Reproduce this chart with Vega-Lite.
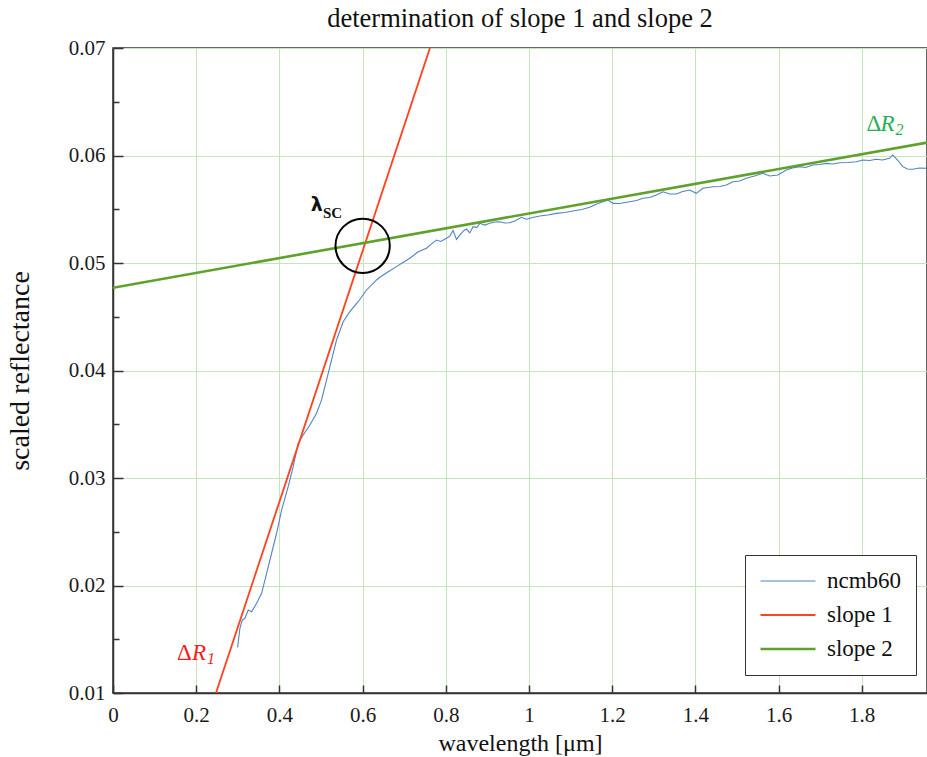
{
  "$schema": "https://vega.github.io/schema/vega-lite/v6.json",
  "width": 814,
  "height": 645,
  "autosize": "none",
  "padding": {"left": 113, "top": 48, "right": 0, "bottom": 64},
  "background": "white",
  "title": {
    "text": "determination of slope 1 and slope 2",
    "font": "Liberation Serif",
    "fontSize": 26.5,
    "fontWeight": "normal",
    "color": "#111111",
    "anchor": "middle",
    "offset": 5
  },
  "config": {
    "view": {"stroke": "#333333", "strokeWidth": 1.5},
    "axis": {
      "labelFont": "Liberation Serif",
      "labelFontSize": 21,
      "labelColor": "#1a1a1a",
      "titleFont": "Liberation Serif",
      "titleFontWeight": "normal",
      "titleColor": "#111111",
      "domainColor": "#333333",
      "domainWidth": 1.5,
      "tickColor": "#333333",
      "tickWidth": 1.5,
      "gridColor": "#c6e5bf",
      "gridWidth": 1,
      "labelOverlap": false,
      "labelFlush": false
    },
    "legend": {
      "orient": "none",
      "legendX": 632,
      "legendY": 507,
      "title": null,
      "strokeColor": "#333333",
      "fillColor": "white",
      "padding": 14,
      "symbolType": "stroke",
      "symbolSize": 3025,
      "clipHeight": 24,
      "rowPadding": 10,
      "symbolOffset": 0,
      "labelOffset": 10,
      "labelFont": "Liberation Serif",
      "labelFontSize": 23,
      "labelColor": "#111111"
    }
  },
  "datasets": {
    "spectrum": [
      {"series": "ncmb60", "x": 0.2996, "y": 0.01425},
      {"series": "ncmb60", "x": 0.3051, "y": 0.01602},
      {"series": "ncmb60", "x": 0.3107, "y": 0.01679},
      {"series": "ncmb60", "x": 0.3172, "y": 0.01695},
      {"series": "ncmb60", "x": 0.3251, "y": 0.01772},
      {"series": "ncmb60", "x": 0.3333, "y": 0.01756},
      {"series": "ncmb60", "x": 0.3453, "y": 0.01834},
      {"series": "ncmb60", "x": 0.3573, "y": 0.01927},
      {"series": "ncmb60", "x": 0.3693, "y": 0.02113},
      {"series": "ncmb60", "x": 0.3813, "y": 0.0230},
      {"series": "ncmb60", "x": 0.3933, "y": 0.02486},
      {"series": "ncmb60", "x": 0.4053, "y": 0.02702},
      {"series": "ncmb60", "x": 0.4212, "y": 0.02919},
      {"series": "ncmb60", "x": 0.4332, "y": 0.03105},
      {"series": "ncmb60", "x": 0.4452, "y": 0.03323},
      {"series": "ncmb60", "x": 0.4572, "y": 0.0340},
      {"series": "ncmb60", "x": 0.4733, "y": 0.03493},
      {"series": "ncmb60", "x": 0.4894, "y": 0.03602},
      {"series": "ncmb60", "x": 0.5014, "y": 0.03726},
      {"series": "ncmb60", "x": 0.5135, "y": 0.03912},
      {"series": "ncmb60", "x": 0.5255, "y": 0.04098},
      {"series": "ncmb60", "x": 0.5375, "y": 0.04284},
      {"series": "ncmb60", "x": 0.5533, "y": 0.04454},
      {"series": "ncmb60", "x": 0.5694, "y": 0.04547},
      {"series": "ncmb60", "x": 0.5894, "y": 0.0464},
      {"series": "ncmb60", "x": 0.6096, "y": 0.04749},
      {"series": "ncmb60", "x": 0.6336, "y": 0.04842},
      {"series": "ncmb60", "x": 0.6415, "y": 0.04867},
      {"series": "ncmb60", "x": 0.6607, "y": 0.04916},
      {"series": "ncmb60", "x": 0.6816, "y": 0.04966},
      {"series": "ncmb60", "x": 0.6968, "y": 0.05005},
      {"series": "ncmb60", "x": 0.7136, "y": 0.05044},
      {"series": "ncmb60", "x": 0.7328, "y": 0.05102},
      {"series": "ncmb60", "x": 0.7537, "y": 0.05137},
      {"series": "ncmb60", "x": 0.7665, "y": 0.0518},
      {"series": "ncmb60", "x": 0.7778, "y": 0.05214},
      {"series": "ncmb60", "x": 0.7881, "y": 0.0520},
      {"series": "ncmb60", "x": 0.8018, "y": 0.0523},
      {"series": "ncmb60", "x": 0.8097, "y": 0.0525},
      {"series": "ncmb60", "x": 0.8176, "y": 0.05302},
      {"series": "ncmb60", "x": 0.8258, "y": 0.0522},
      {"series": "ncmb60", "x": 0.8361, "y": 0.0527},
      {"series": "ncmb60", "x": 0.8433, "y": 0.0530},
      {"series": "ncmb60", "x": 0.8498, "y": 0.05316},
      {"series": "ncmb60", "x": 0.8578, "y": 0.0528},
      {"series": "ncmb60", "x": 0.8657, "y": 0.05338},
      {"series": "ncmb60", "x": 0.8746, "y": 0.0533},
      {"series": "ncmb60", "x": 0.8818, "y": 0.05369},
      {"series": "ncmb60", "x": 0.8938, "y": 0.05353},
      {"series": "ncmb60", "x": 0.9058, "y": 0.05369},
      {"series": "ncmb60", "x": 0.9178, "y": 0.05381},
      {"series": "ncmb60", "x": 0.9299, "y": 0.05384},
      {"series": "ncmb60", "x": 0.9419, "y": 0.05372},
      {"series": "ncmb60", "x": 0.9539, "y": 0.05375},
      {"series": "ncmb60", "x": 0.9659, "y": 0.05391},
      {"series": "ncmb60", "x": 0.9820, "y": 0.05425},
      {"series": "ncmb60", "x": 0.9940, "y": 0.05407},
      {"series": "ncmb60", "x": 1.0091, "y": 0.05423},
      {"series": "ncmb60", "x": 1.0260, "y": 0.05437},
      {"series": "ncmb60", "x": 1.0452, "y": 0.05447},
      {"series": "ncmb60", "x": 1.0661, "y": 0.05462},
      {"series": "ncmb60", "x": 1.0860, "y": 0.0547},
      {"series": "ncmb60", "x": 1.1060, "y": 0.05484},
      {"series": "ncmb60", "x": 1.1269, "y": 0.05498},
      {"series": "ncmb60", "x": 1.1461, "y": 0.05518},
      {"series": "ncmb60", "x": 1.1629, "y": 0.05549},
      {"series": "ncmb60", "x": 1.1780, "y": 0.0557},
      {"series": "ncmb60", "x": 1.1900, "y": 0.05586},
      {"series": "ncmb60", "x": 1.2021, "y": 0.05555},
      {"series": "ncmb60", "x": 1.2182, "y": 0.05553},
      {"series": "ncmb60", "x": 1.2422, "y": 0.0557},
      {"series": "ncmb60", "x": 1.2590, "y": 0.05581},
      {"series": "ncmb60", "x": 1.2741, "y": 0.05602},
      {"series": "ncmb60", "x": 1.2902, "y": 0.05609},
      {"series": "ncmb60", "x": 1.3063, "y": 0.05633},
      {"series": "ncmb60", "x": 1.3222, "y": 0.05663},
      {"series": "ncmb60", "x": 1.3383, "y": 0.05642},
      {"series": "ncmb60", "x": 1.3544, "y": 0.05642},
      {"series": "ncmb60", "x": 1.3695, "y": 0.05665},
      {"series": "ncmb60", "x": 1.3864, "y": 0.05679},
      {"series": "ncmb60", "x": 1.4024, "y": 0.05648},
      {"series": "ncmb60", "x": 1.4183, "y": 0.05695},
      {"series": "ncmb60", "x": 1.4344, "y": 0.05704},
      {"series": "ncmb60", "x": 1.4423, "y": 0.0571},
      {"series": "ncmb60", "x": 1.4584, "y": 0.05712},
      {"series": "ncmb60", "x": 1.4745, "y": 0.05726},
      {"series": "ncmb60", "x": 1.4904, "y": 0.05756},
      {"series": "ncmb60", "x": 1.5065, "y": 0.05763},
      {"series": "ncmb60", "x": 1.5226, "y": 0.05788},
      {"series": "ncmb60", "x": 1.5425, "y": 0.05809},
      {"series": "ncmb60", "x": 1.5625, "y": 0.05834},
      {"series": "ncmb60", "x": 1.5786, "y": 0.05809},
      {"series": "ncmb60", "x": 1.5985, "y": 0.05819},
      {"series": "ncmb60", "x": 1.6187, "y": 0.05865},
      {"series": "ncmb60", "x": 1.6338, "y": 0.05884},
      {"series": "ncmb60", "x": 1.6507, "y": 0.05896},
      {"series": "ncmb60", "x": 1.6650, "y": 0.05888},
      {"series": "ncmb60", "x": 1.6826, "y": 0.05912},
      {"series": "ncmb60", "x": 1.6987, "y": 0.05916},
      {"series": "ncmb60", "x": 1.7148, "y": 0.05927},
      {"series": "ncmb60", "x": 1.7300, "y": 0.05921},
      {"series": "ncmb60", "x": 1.7468, "y": 0.05933},
      {"series": "ncmb60", "x": 1.7660, "y": 0.05935},
      {"series": "ncmb60", "x": 1.7869, "y": 0.05942},
      {"series": "ncmb60", "x": 1.8028, "y": 0.05958},
      {"series": "ncmb60", "x": 1.8189, "y": 0.05953},
      {"series": "ncmb60", "x": 1.8350, "y": 0.05965},
      {"series": "ncmb60", "x": 1.8501, "y": 0.05958},
      {"series": "ncmb60", "x": 1.8669, "y": 0.05974},
      {"series": "ncmb60", "x": 1.8748, "y": 0.06005},
      {"series": "ncmb60", "x": 1.8861, "y": 0.05958},
      {"series": "ncmb60", "x": 1.8988, "y": 0.05896},
      {"series": "ncmb60", "x": 1.9101, "y": 0.05874},
      {"series": "ncmb60", "x": 1.9229, "y": 0.05872},
      {"series": "ncmb60", "x": 1.9390, "y": 0.05884},
      {"series": "ncmb60", "x": 1.9550, "y": 0.05881}
    ],
    "slopes": [
      {"series": "slope 1", "x": 0.2476, "y": 0.01},
      {"series": "slope 1", "x": 0.762, "y": 0.07},
      {"series": "slope 2", "x": 0, "y": 0.0477},
      {"series": "slope 2", "x": 1.957, "y": 0.0612}
    ],
    "crossing": [
      {"x": 0.6002, "y": 0.0516}
    ],
    "notes": [
      {"group": "dR1", "part": "delta", "x": 0.1538, "y": 0.01307, "text": "Δ"},
      {"group": "dR1", "part": "R", "x": 0.1898, "y": 0.01307, "text": "R"},
      {"group": "dR1", "part": "sub", "x": 0.2259, "y": 0.0127, "text": "1"},
      {"group": "dR2", "part": "delta", "x": 1.8116, "y": 0.06228, "text": "Δ"},
      {"group": "dR2", "part": "R", "x": 1.8453, "y": 0.06228, "text": "R"},
      {"group": "dR2", "part": "sub", "x": 1.8813, "y": 0.06191, "text": "2"},
      {"group": "lam", "part": "lambda", "x": 0.4757, "y": 0.05484, "text": "λ"},
      {"group": "lam", "part": "sc", "x": 0.5046, "y": 0.05419, "text": "SC"}
    ]
  },
  "encoding": {
    "x": {
      "field": "x",
      "type": "quantitative",
      "scale": {"domain": [0, 1.957], "nice": false, "zero": false},
      "axis": {
        "title": "wavelength [μm]",
        "titleFontSize": 24,
        "titlePadding": 6,
        "values": [0, 0.2, 0.4, 0.6, 0.8, 1, 1.2, 1.4, 1.6, 1.8],
        "format": "~g",
        "tickSize": -8,
        "labelPadding": 19,
        "grid": true
      }
    },
    "y": {
      "field": "y",
      "type": "quantitative",
      "scale": {"domain": [0.01, 0.07], "nice": false, "zero": false},
      "axis": {
        "title": "scaled reflectance",
        "titleFontSize": 28,
        "titlePadding": 34,
        "values": [0.01, 0.015, 0.02, 0.025, 0.03, 0.035, 0.04, 0.045, 0.05, 0.055, 0.06, 0.065, 0.07],
        "labelExpr": "abs(datum.value * 100 - round(datum.value * 100)) < 0.001 ? format(datum.value, '.2f') : ''",
        "tickSize": {
          "condition": {"test": "abs(datum.value * 100 - round(datum.value * 100)) < 0.001", "value": -10},
          "value": -6
        },
        "labelPadding": 18,
        "grid": true,
        "gridOpacity": {
          "condition": {"test": "abs(datum.value * 100 - round(datum.value * 100)) < 0.001", "value": 1},
          "value": 0
        }
      }
    }
  },
  "layer": [
    {
      "data": {"name": "spectrum"},
      "mark": {"type": "line", "clip": true},
      "encoding": {
        "color": {
          "field": "series",
          "type": "nominal",
          "scale": {"domain": ["ncmb60", "slope 1", "slope 2"], "range": ["#5282c2", "#ff4520", "#5ea22c"]}
        },
        "strokeWidth": {
          "field": "series",
          "type": "nominal",
          "scale": {"domain": ["ncmb60", "slope 1", "slope 2"], "range": [1.1, 2.6, 2.6]}
        }
      }
    },
    {
      "data": {"name": "slopes"},
      "mark": {"type": "line", "clip": true},
      "encoding": {
        "color": {"field": "series", "type": "nominal"},
        "strokeWidth": {"field": "series", "type": "nominal"}
      }
    },
    {
      "data": {"name": "crossing"},
      "mark": {"type": "point", "shape": "circle", "filled": false, "size": 2950, "stroke": "black", "strokeWidth": 2, "opacity": 1}
    },
    {
      "data": {"name": "notes"},
      "transform": [{"filter": "datum.part === 'delta'"}],
      "mark": {"type": "text", "align": "left", "baseline": "alphabetic", "font": "Liberation Serif", "fontSize": 23},
      "encoding": {
        "text": {"field": "text"},
        "color": {"condition": {"test": "datum.group === 'dR1'", "value": "#f51c1c"}, "value": "#1faf55"}
      }
    },
    {
      "data": {"name": "notes"},
      "transform": [{"filter": "datum.part === 'R'"}],
      "mark": {"type": "text", "align": "left", "baseline": "alphabetic", "font": "Liberation Serif", "fontSize": 23, "fontStyle": "italic"},
      "encoding": {
        "text": {"field": "text"},
        "color": {"condition": {"test": "datum.group === 'dR1'", "value": "#f51c1c"}, "value": "#1faf55"}
      }
    },
    {
      "data": {"name": "notes"},
      "transform": [{"filter": "datum.part === 'sub'"}],
      "mark": {"type": "text", "align": "left", "baseline": "alphabetic", "font": "Liberation Serif", "fontSize": 16, "fontStyle": "italic"},
      "encoding": {
        "text": {"field": "text"},
        "color": {"condition": {"test": "datum.group === 'dR1'", "value": "#f51c1c"}, "value": "#1faf55"}
      }
    },
    {
      "data": {"name": "notes"},
      "transform": [{"filter": "datum.part === 'lambda'"}],
      "mark": {"type": "text", "align": "left", "baseline": "alphabetic", "font": "DejaVu Sans", "fontSize": 19, "fontWeight": "bold", "color": "#111111"},
      "encoding": {"text": {"field": "text"}}
    },
    {
      "data": {"name": "notes"},
      "transform": [{"filter": "datum.part === 'sc'"}],
      "mark": {"type": "text", "align": "left", "baseline": "alphabetic", "font": "Liberation Serif", "fontSize": 15, "fontWeight": "bold", "color": "#111111"},
      "encoding": {"text": {"field": "text"}}
    }
  ]
}
